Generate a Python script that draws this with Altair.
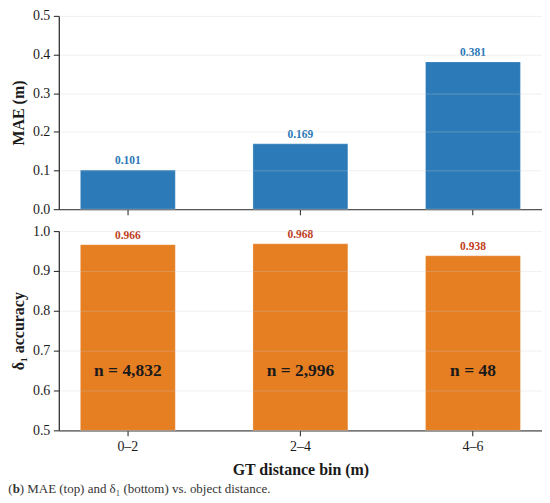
import altair as alt
import pandas as pd

bins = ["0–2", "2–4", "4–6"]
mae = [0.101, 0.169, 0.381]
delta1 = [0.966, 0.968, 0.938]
counts = [4832, 2996, 48]
mae_ticks = [0.0, 0.1, 0.2, 0.3, 0.4, 0.5]
acc_ticks = [0.5, 0.6, 0.7, 0.8, 0.9, 1.0]

df = pd.DataFrame({
    "bin": bins,
    "mae": mae,
    "delta1": delta1,
    "n": counts,
})
df["mae_lbl"] = df["mae"].map(lambda v: f"{v:.3f}")
df["d_lbl"] = df["delta1"].map(lambda v: f"{v:.3f}")
df["n_lbl"] = df["n"].map(lambda v: f"n = {v:,}")

SERIF = "Liberation Serif"
BLUE = "#2c7bb8"
ORANGE = "#e67e22"
BLUE_TXT = "#2a78b6"
RED_TXT = "#c0401c"
W = 485
H_TOP, H_BOT = 194, 200

xscale = alt.Scale(domain=bins, paddingInner=0.45, paddingOuter=0.125)

top_base = alt.Chart(df).encode(
    x=alt.X("bin:N", sort=bins, scale=xscale,
            axis=alt.Axis(labels=False, title=None, ticks=True, grid=False)),
    y=alt.Y("mae:Q", scale=alt.Scale(domain=[0, 0.5], nice=False),
            axis=alt.Axis(values=mae_ticks, format=".1f", tickCount=6,
                          title="MAE (m)", grid=True, zindex=1, labelOverlap=False)),
)
top_bars = top_base.mark_bar(color=BLUE, stroke="#ffffff", strokeOpacity=0.25, strokeWidth=1)
top_text = top_base.mark_text(baseline="bottom", dy=-4, fontWeight="bold", fontSize=11.5,
                              color=BLUE_TXT, font=SERIF).encode(text="mae_lbl:N")
top = alt.layer(top_bars, top_text).properties(width=W, height=H_TOP)

bot_base = alt.Chart(df).encode(
    x=alt.X("bin:N", sort=bins, scale=xscale,
            axis=alt.Axis(title="GT distance bin (m)", labelAngle=0, grid=False)),
    y=alt.Y("delta1:Q", scale=alt.Scale(domain=[0.5, 1.0], nice=False, zero=False),
            axis=alt.Axis(values=acc_ticks, format=".1f", tickCount=6,
                          title="δ₁ accuracy", grid=True, zindex=1, labelOverlap=False)),
)
bot_bars = bot_base.mark_bar(color=ORANGE, stroke="#ffffff", strokeOpacity=0.25,
                             strokeWidth=1).encode(y2=alt.datum(0.5))
bot_text = bot_base.mark_text(baseline="bottom", dy=-4, fontWeight="bold", fontSize=11.5,
                              color=RED_TXT, font=SERIF).encode(text="d_lbl:N")
n_text = bot_base.mark_text(baseline="middle", fontWeight="bold", fontSize=17.5,
                            color="#1a1a1a", font=SERIF).encode(
    y=alt.datum(0.65),
    text="n_lbl:N",
)

cap_y = 259
cap_x = -50.7
one = alt.Data(values=[{"k": 1}])
cap1 = alt.Chart(one).mark_text(text="(", align="left", baseline="middle", font=SERIF,
                                fontSize=13, color="#333333").encode(
    x=alt.value(cap_x), y=alt.value(cap_y))
cap2 = alt.Chart(one).mark_text(text="b", align="left", baseline="middle", font=SERIF,
                                fontSize=13, fontWeight="bold", color="#333333").encode(
    x=alt.value(cap_x + 4.5), y=alt.value(cap_y))
cap3 = alt.Chart(one).mark_text(text=") MAE (top) and δ₁ (bottom) vs. object distance.",
                                align="left", baseline="middle", font=SERIF,
                                fontSize=13, color="#333333").encode(
    x=alt.value(cap_x + 11.5), y=alt.value(cap_y))

bottom = alt.layer(bot_bars, bot_text, n_text, cap1, cap2, cap3).properties(width=W, height=H_BOT)

chart = alt.vconcat(top, bottom, spacing=8).properties(
    padding=0
).configure_view(stroke=None).configure_axis(
    labelFont=SERIF, titleFont=SERIF, labelFontSize=14, titleFontSize=16,
    labelColor="#1a1a1a", titleColor="#1a1a1a", titleFontWeight="bold",
    domainColor="#333333", domainWidth=1.3, tickColor="#333333", tickWidth=1.1,
    tickSize=5.5, labelPadding=3.5, titlePadding=6, labelOverlap=False,
    gridColor="#cccccc", gridOpacity=0.3, gridWidth=1,
).configure_axisX(
    titleFontSize=16, labelPadding=4, titlePadding=8,
)

chart.save("out.html", embed_options={"renderer": "svg", "actions": False})
